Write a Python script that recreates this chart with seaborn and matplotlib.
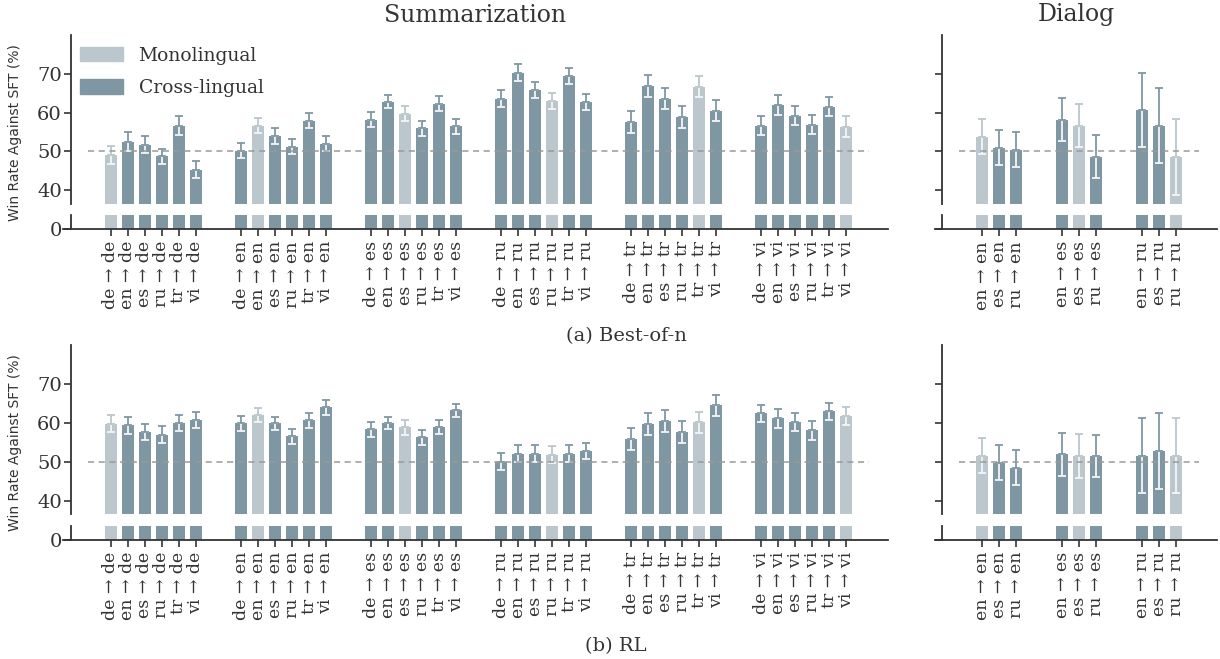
import pandas as pd
import seaborn as sns
import matplotlib.pyplot as plt
from matplotlib.patches import Patch

langs = ['de', 'en', 'es', 'ru', 'tr', 'vi']
dlg_langs = ['en', 'es', 'ru']

# one row per target language, columns follow the source language order
bon_summ = [[49.1, 52.5, 51.7, 48.7, 56.6, 45.3],
            [50.2, 56.6, 54.0, 51.2, 57.9, 52.0],
            [58.2, 62.8, 59.7, 55.9, 62.3, 56.5],
            [63.6, 70.3, 65.9, 63.0, 69.5, 62.8],
            [57.6, 66.9, 63.6, 58.9, 66.7, 60.5],
            [56.6, 62.0, 59.2, 56.9, 61.5, 56.4]]
bon_summ_err = [[2.3, 2.4, 2.2, 2.0, 2.4, 2.1],
                [1.9, 1.9, 2.1, 1.9, 1.9, 2.0],
                [1.9, 1.7, 1.9, 2.0, 1.9, 1.9],
                [2.1, 2.1, 2.1, 2.1, 2.1, 2.1],
                [2.9, 2.9, 2.8, 2.9, 2.7, 2.8],
                [2.4, 2.5, 2.4, 2.4, 2.4, 2.6]]
rl_summ = [[59.8, 59.4, 57.6, 57.0, 59.9, 60.7],
           [59.9, 61.9, 59.9, 56.5, 60.7, 64.0],
           [58.3, 59.9, 58.9, 56.3, 59.0, 63.2],
           [50.0, 52.1, 52.1, 51.8, 52.1, 52.7],
           [55.8, 59.6, 60.4, 57.6, 60.2, 64.5],
           [62.5, 61.2, 60.1, 58.1, 63.0, 61.7]]
rl_summ_err = [[2.2, 2.2, 2.1, 2.1, 2.1, 2.1],
               [1.9, 1.8, 1.7, 1.9, 1.9, 1.9],
               [1.9, 1.6, 1.9, 1.9, 1.8, 1.6],
               [2.2, 2.1, 2.1, 2.2, 2.1, 2.1],
               [2.8, 2.8, 2.8, 2.8, 2.7, 2.7],
               [2.2, 2.4, 2.3, 2.4, 2.2, 2.3]]
bon_dlg = [[53.8, 50.9, 50.4],
           [58.2, 56.6, 48.6],
           [60.7, 56.6, 48.6]]
bon_dlg_err = [[4.5, 4.5, 4.5],
               [5.5, 5.5, 5.5],
               [9.6, 9.7, 9.8]]
rl_dlg = [[51.6, 49.8, 48.5],
          [51.9, 51.4, 51.6],
          [51.6, 52.7, 51.6]]
rl_dlg_err = [[4.6, 4.6, 4.6],
              [5.6, 5.7, 5.4],
              [9.7, 9.7, 9.7]]

palette = {'Monolingual': '#bbc7cc', 'Cross-lingual': '#7f97a2'}
dark = '#333333'

sns.set_theme(style='ticks')
plt.rcParams['font.family'] = ['DejaVu Serif']
plt.rcParams['text.color'] = dark
plt.rcParams['axes.edgecolor'] = dark
plt.rcParams['xtick.color'] = dark
plt.rcParams['ytick.color'] = dark


def make_df(means, errs, names, period):
    rows = []
    for g, tgt in enumerate(names):
        for i, src in enumerate(names):
            rows.append(dict(x=g * period + i, win=means[g][i], err=errs[g][i],
                             label=f'{src} → {tgt}',
                             kind='Monolingual' if src == tgt else 'Cross-lingual'))
    return pd.DataFrame(rows)


def draw(ax_hi, ax_lo, df, xlim, spine_frac, left_labels):
    for ax in (ax_hi, ax_lo):
        sns.barplot(data=df, x='x', y='win', hue='kind', palette=palette,
                    hue_order=['Monolingual', 'Cross-lingual'], native_scale=True,
                    width=0.7, errorbar=None, saturation=1, linewidth=0,
                    legend=False, ax=ax)
        ax.set_xlim(*xlim)
        ax.set_xlabel('')
        ax.set_ylabel('')
        ax.spines[['top', 'right']].set_visible(False)
        ax.spines['left'].set_position(('axes', spine_frac))
        for s in ax.spines.values():
            s.set_linewidth(1.3)

    # error bars: part inside the bar in white, part above in bar colour
    for _, r in df.iterrows():
        c = palette[r.kind]
        ax_hi.errorbar(r.x, r.win, yerr=[[r.err], [0]], color='#f4f6f7',
                       lw=1.3, capsize=2.6, capthick=1.3)
        ax_hi.errorbar(r.x, r.win, yerr=[[0], [r.err]], color=c,
                       lw=1.3, capsize=2.6, capthick=1.3)

    ax_hi.plot([df.x.min() - 1.35, df.x.max() + 1.35], [50, 50],
               color='#9a9a9a', lw=1.1, dashes=(4, 3))

    ax_hi.set_ylim(36.5, 80)
    ax_hi.set_yticks([40, 50, 60, 70])
    ax_hi.spines['bottom'].set_visible(False)
    ax_hi.set_xticks([])
    ax_lo.set_ylim(0, 3)
    ax_lo.set_yticks([0])
    ax_lo.set_xticks(df.x, df.label, rotation=90, fontsize=12.5)
    ax_lo.tick_params(axis='x', length=5, width=1.2)
    for ax in (ax_hi, ax_lo):
        ax.tick_params(axis='y', length=5, width=1.2, pad=1.5, labelsize=14,
                       labelleft=left_labels)


fig = plt.figure(figsize=(12.2, 6.59), dpi=100)
H = 659.0
W = 1220.0


def rect(x0, x1, y0, y1):
    return [x0 / W, 1 - y1 / H, (x1 - x0) / W, (y1 - y0) / H]


summ_x = (63, 888)
dlg_x = (935, 1217)
panels = [
    (bon_summ, bon_summ_err, bon_dlg, bon_dlg_err, (35, 203.7), (215, 229.3)),
    (rl_summ, rl_summ_err, rl_dlg, rl_dlg_err, (345, 514.3), (526, 540)),
]

for k, (sm, se, dm, de, hi, lo) in enumerate(panels):
    df_s = make_df(sm, se, langs, 7.65)
    df_d = make_df(dm, de, dlg_langs, 4.7)
    a_hi = fig.add_axes(rect(*summ_x, *hi))
    a_lo = fig.add_axes(rect(*summ_x, *lo))
    draw(a_hi, a_lo, df_s, (-2.82, 45.7), 8 / 825, True)
    b_hi = fig.add_axes(rect(*dlg_x, *hi))
    b_lo = fig.add_axes(rect(*dlg_x, *lo))
    draw(b_hi, b_lo, df_d, (-2.78, 13.8), 7.3 / 282, False)

    fig.text(15 / W, 1 - (hi[0] + lo[1]) / 2 / H, 'Win Rate Against SFT (%)',
             rotation=90, ha='center', va='center', fontsize=10,
             family=['DejaVu Sans'])

    if k == 0:
        handles = [Patch(color=palette[n]) for n in ['Monolingual', 'Cross-lingual']]
        a_hi.legend(handles, ['Monolingual', 'Cross-lingual'], loc='upper left',
                    bbox_to_anchor=(0.02, 0.93), frameon=False, fontsize=13.5,
                    handlelength=2.3, handleheight=0.8, handletextpad=0.85,
                    labelspacing=0.75, borderpad=0, borderaxespad=0)

fig.text(475 / W, 1 - 15 / H, 'Summarization', ha='center', va='center', fontsize=17)
fig.text(1076 / W, 1 - 15 / H, 'Dialog', ha='center', va='center', fontsize=17)
fig.text(626 / W, 1 - 336 / H, '(a) Best-of-n', ha='center', va='center', fontsize=14)
fig.text(616 / W, 1 - 646 / H, '(b) RL', ha='center', va='center', fontsize=14)

fig.savefig('out.png', dpi=100)
